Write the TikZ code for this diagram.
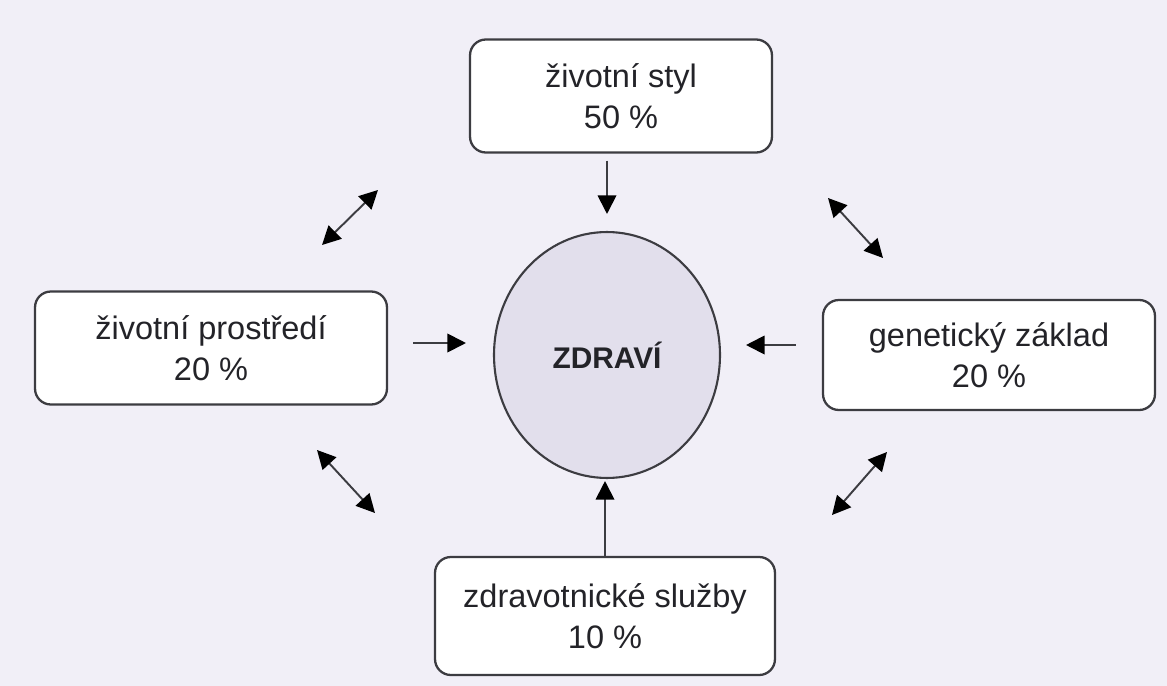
\documentclass[tikz,border=0pt]{standalone}
\usepackage{fontspec}
\setmainfont{Liberation Sans}
\usepackage{tikz}
\usetikzlibrary{arrows.meta,shapes.geometric}
\definecolor{paper}  {RGB}{241,239,247}
\definecolor{inkgray}{RGB}{35,35,40}
\definecolor{lineg}  {RGB}{60,60,65}
\definecolor{discg}  {RGB}{226,223,236}

\begin{document}
\begin{tikzpicture}[x=0.02cm, y=-0.02cm,
      factor/.style={draw=lineg, line width=1.3pt, rounded corners=9pt, fill=white,
                     text=inkgray, align=center, inner sep=0pt,
                     font=\fontsize{18.5}{23}\selectfont},
      arr/.style={lineg, line width=1.1pt, -{Triangle[length=0.37cm, width=0.37cm, color=black]}},
      dbl/.style={lineg, line width=1.1pt,
                  {Triangle[length=0.37cm, width=0.37cm, color=black]}-{Triangle[length=0.37cm, width=0.37cm, color=black]}},
    ]
      \fill[paper] (0,0) rectangle (1167,686);
      \useasboundingbox (0,0) rectangle (1167,686);

      \node[ellipse, draw=lineg, line width=1.2pt, fill=discg, inner sep=0pt,
            minimum width=4.52cm, minimum height=4.92cm, text=inkgray,
            font=\bfseries\fontsize{17}{21}\selectfont] (zdravi) at (607,355) {ZDRAVÍ};

      \node[factor, minimum width=6.04cm, minimum height=2.26cm] (styl)      at (621,96)  {životní styl\\50 \%};
      \node[factor, minimum width=7.04cm, minimum height=2.26cm] (prostredi) at (211,348) {životní prostředí\\20 \%};
      \node[factor, minimum width=6.64cm, minimum height=2.2cm]  (genetika)  at (989,355) {genetický základ\\20 \%};
      \node[factor, minimum width=6.8cm,  minimum height=2.36cm] (sluzby)    at (605,616) {zdravotnické služby\\10 \%};

      \draw[arr, shorten <=0.14cm, shorten >=0.34cm] (zdravi.north |- styl.south) -- (zdravi.north);
      \draw[arr, shorten <=0.5cm, shorten >=0.54cm] ([yshift=0.1cm]prostredi.east) -- ([yshift=0.1cm]prostredi.east -| zdravi.west);
      \draw[arr, shorten <=0.52cm, shorten >=0.5cm] ([yshift=0.2cm]genetika.west) -- ([yshift=0.2cm]genetika.west -| zdravi.east);
      \draw[arr, shorten >=0.04cm] (sluzby.north) -- (sluzby.north |- zdravi.south);

      \coordinate (tl1) at (322,245); \coordinate (tl2) at (378,190);
      \coordinate (tr1) at (828,198); \coordinate (tr2) at (883,258);
      \coordinate (bl1) at (317,450); \coordinate (bl2) at (375,513);
      \coordinate (br1) at (887,452); \coordinate (br2) at (832,515);
      \draw[dbl] (tl1) -- (tl2);
      \draw[dbl] (tr1) -- (tr2);
      \draw[dbl] (bl1) -- (bl2);
      \draw[dbl] (br1) -- (br2);
    \end{tikzpicture}
\end{document}
